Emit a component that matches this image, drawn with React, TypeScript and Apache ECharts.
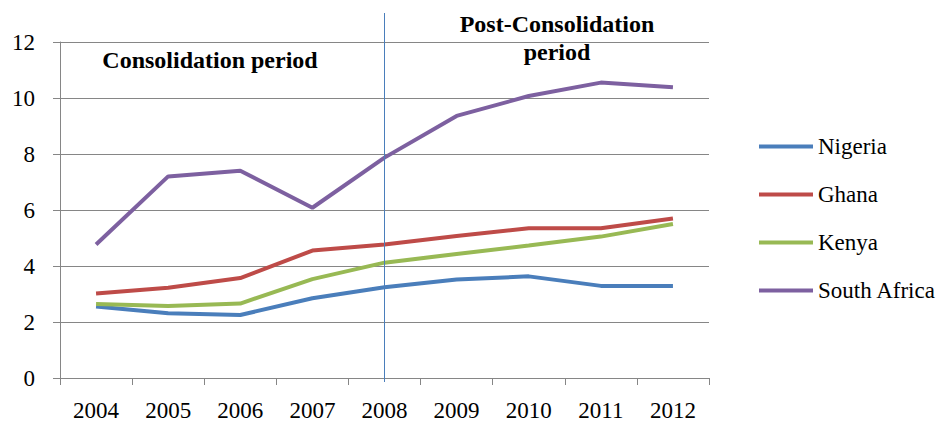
import React, { useEffect, useRef } from "react";
import * as echarts from "echarts";

const years = ["2004", "2005", "2006", "2007", "2008", "2009", "2010", "2011", "2012"];
const nigeria = [2.55, 2.31, 2.25, 2.85, 3.24, 3.52, 3.63, 3.29, 3.29];
const ghana = [3.02, 3.22, 3.57, 4.55, 4.77, 5.07, 5.35, 5.35, 5.7];
const kenya = [2.64, 2.57, 2.66, 3.53, 4.12, 4.43, 4.73, 5.05, 5.5];
const southAfrica = [4.77, 7.2, 7.4, 6.08, 7.87, 9.36, 10.07, 10.55, 10.38];

const seriesNames = ["Nigeria", "Ghana", "Kenya", "South Africa"];
const seriesColors = ["#4a7ebb", "#be4b48", "#98b954", "#7d60a0"];
const dividerYear = "2008";

const FONT = "Liberation Serif, serif";

export default function App() {
  const ref = useRef<HTMLDivElement>(null);

  useEffect(() => {
    if (!ref.current) return;
    const chart = echarts.init(ref.current, undefined, { renderer: "svg" });
    const data = [nigeria, ghana, kenya, southAfrica];
    chart.setOption({
      animation: false,
      backgroundColor: "#ffffff",
      textStyle: { fontFamily: FONT },
      grid: { left: 60, top: 42, right: 232, bottom: 49, containLabel: false },
      legend: {
        orient: "vertical",
        left: 754,
        top: 130,
        icon: "rect",
        itemWidth: 54,
        itemHeight: 4,
        itemGap: 25,
        data: seriesNames,
        textStyle: { fontFamily: FONT, fontSize: 23, color: "#000" },
      },
      xAxis: {
        type: "category",
        data: years,
        boundaryGap: true,
        axisLine: { show: true, lineStyle: { color: "#868686", width: 1 } },
        axisTick: { show: true, length: 7, alignWithLabel: false, lineStyle: { color: "#868686" } },
        axisLabel: { fontFamily: FONT, fontSize: 23, color: "#000", margin: 21 },
        splitLine: { show: false },
      },
      yAxis: {
        type: "value",
        min: 0,
        max: 12,
        interval: 2,
        axisLine: { show: true, lineStyle: { color: "#868686", width: 1 } },
        axisTick: { show: true, length: 7, lineStyle: { color: "#868686" } },
        axisLabel: { fontFamily: FONT, fontSize: 23, color: "#000", margin: 25 },
        splitLine: { show: true, lineStyle: { color: "#868686", width: 1 } },
      },
      series: seriesNames.map((name, i) => ({
        name,
        type: "line",
        data: data[i],
        symbol: "none",
        lineStyle: { width: 4, color: seriesColors[i] },
        itemStyle: { color: seriesColors[i] },
        z: 3,
      })),
    });

    const xDiv = chart.convertToPixel({ xAxisIndex: 0 }, dividerYear) as number;
    chart.setOption({
      graphic: [
        {
          type: "line",
          shape: { x1: xDiv, y1: 13, x2: xDiv, y2: 382 },
          style: { stroke: "#4a7ebb", lineWidth: 1 },
          z: 10,
        },
        {
          type: "text",
          x: 210,
          y: 60,
          style: {
            text: "Consolidation period",
            fontFamily: FONT,
            fontWeight: "bold",
            fontSize: 24,
            fill: "#000",
            align: "center",
            verticalAlign: "middle",
          },
          z: 10,
        },
        {
          type: "text",
          x: 557,
          y: 38,
          style: {
            text: "Post-Consolidation\nperiod",
            fontFamily: FONT,
            fontWeight: "bold",
            fontSize: 24,
            lineHeight: 28,
            fill: "#000",
            align: "center",
            verticalAlign: "middle",
          },
          z: 10,
        },
      ],
    });

    return () => chart.dispose();
  }, []);

  return (
    <div
      ref={ref}
      style={{ position: "fixed", left: 0, top: 0, width: 941, height: 427, background: "#fff" }}
    />
  );
}
